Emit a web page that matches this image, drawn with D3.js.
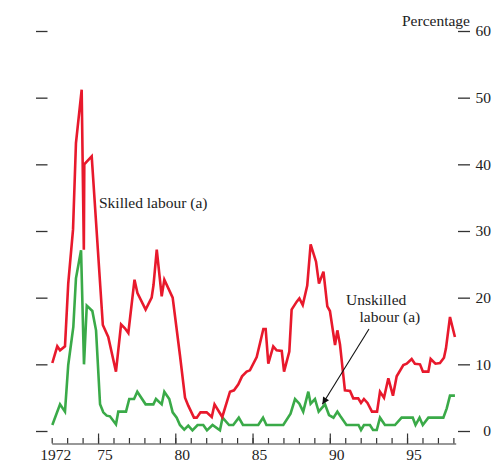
<!DOCTYPE html>
<html>
<head>
<meta charset="utf-8">
<script src="https://cdn.jsdelivr.net/npm/d3@7"></script>
<style>
  body { margin: 0; background: #fff; }
  text { font-family: "Liberation Serif", "DejaVu Serif", serif; font-size: 15.5px; fill: #222; }
</style>
</head>
<body>
<svg id="chart" width="493" height="461"></svg>
<script>
// survey dates (decimal years) and percentages
const skilledDates = [1972.04, 1972.36, 1972.54, 1972.86, 1973.07, 1973.38, 1973.57, 1973.94, 1974.08, 1974.11,
  1974.27, 1974.59, 1975.31, 1975.66, 1976.16, 1976.49, 1976.74, 1976.96, 1977.36, 1977.55,
  1978.08, 1978.47, 1978.59, 1978.80, 1979.12, 1979.29, 1979.83, 1980.30, 1980.63, 1980.84,
  1981.21, 1981.39, 1981.63, 1982.03, 1982.36, 1982.54, 1983.04, 1983.54, 1983.80, 1984.08,
  1984.32, 1984.62, 1984.83, 1985.27, 1985.70, 1985.85, 1986.02, 1986.34, 1986.56, 1986.89,
  1987.04, 1987.38, 1987.53, 1987.86, 1988.03, 1988.25, 1988.54, 1988.76, 1989.11, 1989.30,
  1989.59, 1989.84, 1990.01, 1990.34, 1990.49, 1990.66, 1990.98, 1991.31, 1991.52, 1991.84,
  1992.02, 1992.21, 1992.44, 1992.73, 1993.06, 1993.25, 1993.51, 1993.79, 1994.09, 1994.33,
  1994.76, 1994.98, 1995.30, 1995.51, 1995.84, 1996.03, 1996.38, 1996.53, 1996.84, 1997.13,
  1997.39, 1997.52, 1997.78, 1998.10];
const skilledValues = [10.2, 12.7, 12.1, 12.7, 22.1, 30.2, 43.2, 51.2, 27.2, 40.0,
  40.4, 41.2, 15.9, 14.1, 8.9, 16.0, 15.4, 14.7, 22.7, 20.7,
  18.2, 20.0, 21.9, 27.2, 20.2, 22.7, 20.0, 11.4, 5.0, 3.8,
  2.0, 2.0, 2.8, 2.8, 2.1, 4.0, 2.1, 5.9, 6.1, 7.0,
  8.2, 8.9, 9.1, 11.1, 15.3, 15.3, 10.1, 12.7, 12.1, 12.0,
  8.9, 11.9, 18.2, 19.4, 19.9, 18.9, 21.8, 28.0, 25.4, 22.1,
  23.9, 18.7, 18.0, 12.9, 15.1, 13.0, 6.1, 6.0, 4.9, 4.9,
  4.2, 4.8, 4.2, 2.9, 2.9, 5.9, 5.0, 7.9, 5.3, 8.2,
  9.9, 10.1, 10.8, 10.1, 10.0, 8.9, 8.9, 10.8, 10.1, 10.2,
  11.0, 12.4, 17.1, 14.1];

const unskilledDates = [1972.04, 1972.54, 1972.86, 1973.07, 1973.40, 1973.57, 1973.90, 1974.09, 1974.27, 1974.63,
  1974.87, 1975.13, 1975.34, 1975.56, 1975.77, 1976.16, 1976.31, 1976.81, 1977.02, 1977.33,
  1977.54, 1978.08, 1978.58, 1978.75, 1979.12, 1979.29, 1979.61, 1979.83, 1980.09, 1980.30,
  1980.58, 1980.84, 1981.11, 1981.44, 1981.81, 1982.05, 1982.41, 1982.89, 1983.06, 1983.48,
  1983.75, 1984.11, 1984.38, 1985.37, 1985.68, 1985.90, 1986.99, 1987.46, 1987.75, 1988.03,
  1988.28, 1988.61, 1988.76, 1989.04, 1989.28, 1989.69, 1989.95, 1990.24, 1990.49, 1990.69,
  1991.08, 1991.86, 1992.02, 1992.21, 1992.60, 1992.80, 1993.04, 1993.25, 1993.57, 1994.22,
  1994.65, 1995.37, 1995.55, 1995.81, 1996.02, 1996.38, 1997.35, 1997.57, 1997.78, 1998.10];
const unskilledValues = [0.9, 4.0, 2.9, 9.9, 15.6, 22.9, 27.1, 10.0, 18.8, 18.0,
  15.1, 4.0, 2.8, 2.3, 2.2, 1.0, 2.9, 2.9, 4.8, 4.8,
  5.9, 4.0, 4.0, 4.8, 4.0, 5.9, 4.8, 2.8, 2.0, 0.9,
  0.2, 0.8, 0.1, 0.9, 0.9, 0.1, 0.9, 0.1, 2.0, 0.9,
  0.9, 2.0, 0.9, 0.9, 2.0, 0.9, 0.9, 2.6, 4.8, 4.1,
  2.9, 5.9, 4.1, 4.8, 2.9, 4.0, 2.4, 2.0, 2.9, 2.2,
  0.9, 0.9, 0.15, 0.9, 0.9, 0.15, 0.15, 2.0, 0.9, 0.9,
  2.0, 2.0, 0.9, 2.0, 0.9, 2.0, 2.0, 3.4, 5.3, 5.3];

const yTicks = [0, 10, 20, 30, 40, 50, 60];
const tickYears = d3.range(1972, 1999);
const majorYears = [1975, 1980, 1985, 1990, 1995];
const yearLabels = ['1972', '75', '80', '85', '90', '95'];
const labelYears = [1972, 1975, 1980, 1985, 1990, 1995];

const red = '#e8192c';
const green = '#3aaa48';

const svg = d3.select('#chart');

const x = d3.scaleLinear().domain([1972, 1998.15]).range([51.7, 455.7]);
const y = d3.scaleLinear().domain([0, 60]).range([431, 31]);

// left tick marks, no labels
svg.append('g')
    .attr('transform', 'translate(47.5,0)')
    .call(d3.axisLeft(y).tickValues(yTicks).tickSize(11.5).tickFormat(''))
    .call(g => g.select('.domain').remove())
    .call(g => g.selectAll('line').attr('stroke', '#333').attr('stroke-width', 1.3));

// right tick marks with labels
svg.append('g')
    .attr('transform', 'translate(458,0)')
    .call(d3.axisRight(y).tickValues(yTicks).tickSize(12))
    .call(g => g.select('.domain').remove())
    .call(g => g.selectAll('line').attr('stroke', '#333').attr('stroke-width', 1.3))
    .call(g => g.selectAll('text')
        .attr('x', 33).attr('text-anchor', 'end').attr('dy', '0.32em')
        .style('font-family', '"Liberation Serif", serif').style('font-size', '15.5px').attr('fill', '#222'));

svg.append('text')
    .attr('x', 470).attr('y', 26)
    .attr('text-anchor', 'end')
    .text('Percentage');

// x axis: baseline with yearly ticks, taller ones every five years
const xg = svg.append('g').attr('transform', 'translate(0,443.5)');
xg.call(d3.axisTop(x).tickValues(tickYears).tickSize(5.5).tickSizeOuter(0).tickFormat(''))
    .call(g => g.selectAll('line').attr('stroke', '#333').attr('stroke-width', 1.2))
    .call(g => g.select('.domain').attr('stroke', '#333').attr('stroke-width', 1.2));
xg.append('g')
    .call(d3.axisTop(x).tickValues(majorYears).tickSize(10).tickFormat(''))
    .call(g => g.select('.domain').remove())
    .call(g => g.selectAll('line').attr('stroke', '#333').attr('stroke-width', 1.2));

svg.append('g')
    .selectAll('text')
    .data(labelYears)
    .join('text')
    .attr('x', (d, i) => x(d + (i === 0 ? 0.27 : 0.45)))
    .attr('y', 459.5)
    .attr('text-anchor', 'middle')
    .text((d, i) => yearLabels[i]);

// series
const line = d3.line()
    .x(d => x(d[0]))
    .y(d => y(d[1]));

svg.append('path')
    .datum(d3.zip(unskilledDates, unskilledValues))
    .attr('d', line)
    .attr('fill', 'none')
    .attr('stroke', green)
    .attr('stroke-width', 2.6)
    .attr('stroke-linejoin', 'miter');

svg.append('path')
    .datum(d3.zip(skilledDates, skilledValues))
    .attr('d', line)
    .attr('fill', 'none')
    .attr('stroke', red)
    .attr('stroke-width', 2.6)
    .attr('stroke-linejoin', 'miter');

// annotations
svg.append('text').attr('x', 99).attr('y', 207.5).text('Skilled labour (a)');
svg.append('text').attr('x', 346).attr('y', 305).text('Unskilled');
svg.append('text').attr('x', 359.5).attr('y', 322).text('labour (a)');

svg.append('defs').append('marker')
    .attr('id', 'arrow')
    .attr('viewBox', '0 0 10 10')
    .attr('refX', 10).attr('refY', 5)
    .attr('markerWidth', 9).attr('markerHeight', 7)
    .attr('markerUnits', 'userSpaceOnUse')
    .attr('orient', 'auto')
    .append('path')
    .attr('d', 'M0,0L10,5L0,10Z')
    .attr('fill', '#111');

svg.append('line')
    .attr('x1', 369).attr('y1', 329)
    .attr('x2', x(1989.52)).attr('y2', y(4.0))
    .attr('stroke', '#111')
    .attr('stroke-width', 1.1)
    .attr('marker-end', 'url(#arrow)');
</script>
</body>
</html>
